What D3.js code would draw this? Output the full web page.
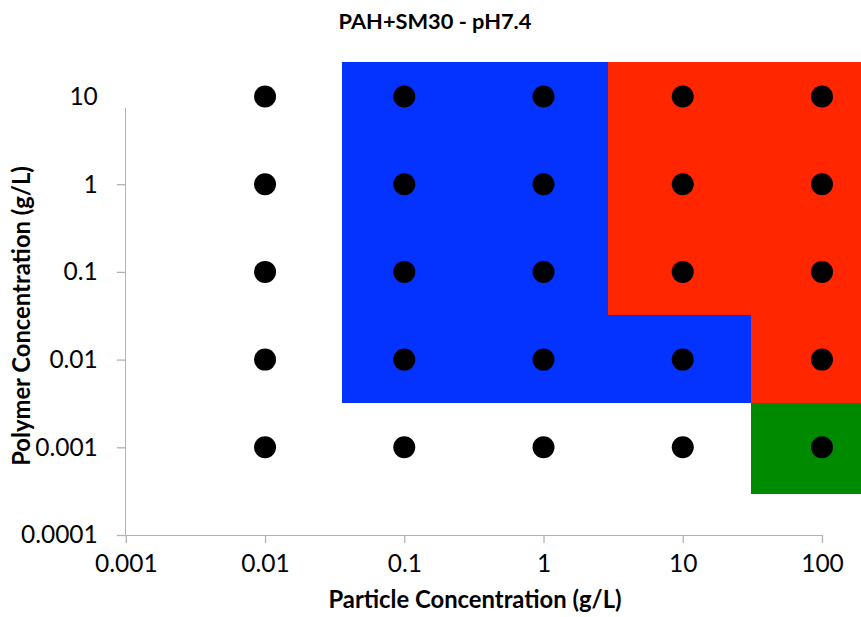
<!DOCTYPE html>
<html>
<head>
<meta charset="utf-8">
<script src="https://cdn.jsdelivr.net/npm/d3@7"></script>
<style>
  html, body { margin: 0; padding: 0; background: #fff; }
  svg { display: block; }
  text { font-family: Lato, "Noto Sans", sans-serif; fill: #000; }
</style>
</head>
<body>
<svg id="chart" width="861" height="617"></svg>
<script>
// ---- data ----
const title = "PAH+SM30 - pH7.4";
const xLabel = "Particle Concentration (g/L)";
const yLabel = "Polymer Concentration (g/L)";
const xTicks = [0.001, 0.01, 0.1, 1, 10, 100];
const xTickLabels = ["0.001", "0.01", "0.1", "1", "10", "100"];
const yTicks = [0.0001, 0.001, 0.01, 0.1, 1, 10];
const yTickLabels = ["0.0001", "0.001", "0.01", "0.1", "1", "10"];
const particleConc = [0.01, 0.1, 1, 10, 100];
const polymerConc = [0.001, 0.01, 0.1, 1, 10];
// phase regions (data units): [x0, x1, y0, y1]
const regionNames = ["blue", "red-upper", "red-right", "green"];
const regionColors = ["#0433FF", "#FF2600", "#FF2600", "#008A00"];
const regionX0 = [0.0358, 2.92, 30.8, 30.8];
const regionX1 = [30.8, 200, 200, 200];
const regionY0 = [0.00318, 0.0323, 0.00318, 0.00029];
const regionY1 = [24.7, 24.7, 24.7, 0.00318];
const yAxisTop = 7.4;

// ---- scales ----
const svg = d3.select("#chart");
const x = d3.scaleLog().domain([0.001, 100]).range([125.8, 822]);
const y = d3.scaleLog().domain([0.0001, 10]).range([535, 96.5]);

// regions
const regions = regionNames.map((n, i) => ({
  name: n, color: regionColors[i],
  x0: regionX0[i], x1: regionX1[i], y0: regionY0[i], y1: regionY1[i]
}));
svg.append("g").selectAll("rect").data(regions).join("rect")
  .attr("x", d => x(d.x0))
  .attr("y", d => y(d.y1))
  .attr("width", d => x(d.x1) - x(d.x0))
  .attr("height", d => y(d.y0) - y(d.y1))
  .attr("fill", d => d.color)
  .attr("shape-rendering", "crispEdges");

// axes
const axisColor = "#b3b3b3";
const gx = svg.append("g").attr("transform", `translate(0,${y(0.0001)})`)
  .call(d3.axisBottom(x).tickValues(xTicks).tickFormat((d, i) => xTickLabels[i]).tickSizeOuter(0).tickSize(8).tickPadding(12));
gx.select(".domain").attr("stroke", axisColor).attr("stroke-width", 1.3);
gx.selectAll(".tick line").attr("stroke", axisColor).attr("stroke-width", 1.3);
gx.selectAll(".tick text").attr("font-size", 24.5).attr("font-family", "Lato").attr("fill", "#000");

const gy = svg.append("g").attr("transform", `translate(${x(0.001)},0)`)
  .call(d3.axisLeft(y).tickValues(yTicks).tickFormat((d, i) => yTickLabels[i]).tickSizeOuter(0).tickSize(9).tickPadding(19));
gy.select(".domain").attr("d", `M0,${y(yAxisTop)}V${y(0.0001)}`).attr("stroke", axisColor).attr("stroke-width", 1.3);
gy.selectAll(".tick line").attr("stroke", axisColor).attr("stroke-width", 1.3)
  .filter(d => d > yAxisTop).remove();
gy.selectAll(".tick text").attr("font-size", 24.5).attr("font-family", "Lato").attr("fill", "#000");
svg.selectAll(".domain").attr("shape-rendering", "crispEdges");

// points
const pts = [];
polymerConc.forEach(pc => particleConc.forEach(p => pts.push({ x: p, y: pc })));
svg.append("g").selectAll("circle").data(pts).join("circle")
  .attr("cx", d => x(d.x)).attr("cy", d => y(d.y)).attr("r", 11).attr("fill", "#000");

// titles
svg.append("text").attr("x", 435).attr("y", 29).attr("text-anchor", "middle")
  .attr("font-weight", "bold").attr("font-size", 21.8).text(title);
svg.append("text").attr("x", 475).attr("y", 608).attr("text-anchor", "middle")
  .attr("font-weight", "bold").attr("font-size", 23.8).text(xLabel);
svg.append("text").attr("transform", "translate(30,316) rotate(-90)").attr("text-anchor", "middle")
  .attr("font-weight", "bold").attr("font-size", 23.8).text(yLabel);
</script>
</body>
</html>
